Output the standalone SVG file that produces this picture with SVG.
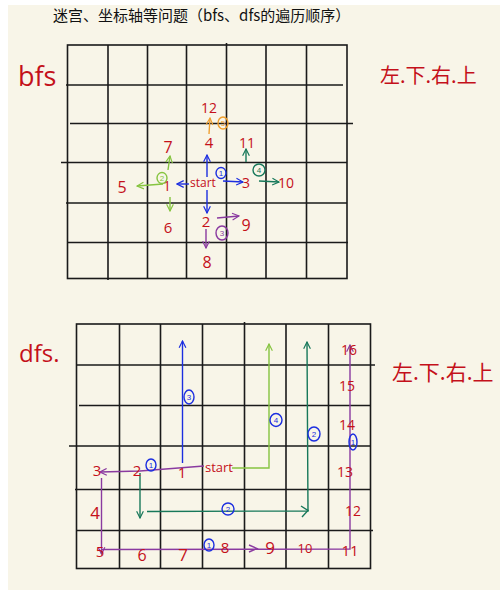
<svg xmlns="http://www.w3.org/2000/svg" width="500" height="590" viewBox="0 0 500 590">
<style>
.g{stroke:#1a1a1a;stroke-width:1.6;fill:none}
.r{fill:#c4101a;font-family:"Open Sans","Liberation Sans",sans-serif;text-anchor:middle}
.h{fill:#c4101a;font-family:"Open Sans","Liberation Sans",sans-serif}
.cj{fill:#c4101a;font-family:"Noto Sans CJK SC",sans-serif}
.b{stroke:#1c2ee0;stroke-width:1.4;fill:none}
.lg{stroke:#86c440;stroke-width:1.4;fill:none}
.dg{stroke:#17785a;stroke-width:1.4;fill:none}
.pu{stroke:#8a3aa0;stroke-width:1.4;fill:none}
.or{stroke:#f0a030;stroke-width:1.4;fill:none}
.cn{font-family:"Liberation Sans",sans-serif;font-size:8px;text-anchor:middle}
</style>
<defs>
<marker id="mb" viewBox="0 0 10 10" refX="9" refY="5" markerWidth="6" markerHeight="6" orient="auto"><path d="M1,1 L9,5 L1,9" fill="none" stroke="#1c2ee0" stroke-width="1.4"/></marker>
<marker id="mlg" viewBox="0 0 10 10" refX="9" refY="5" markerWidth="6" markerHeight="6" orient="auto"><path d="M1,1 L9,5 L1,9" fill="none" stroke="#86c440" stroke-width="1.4"/></marker>
<marker id="mdg" viewBox="0 0 10 10" refX="9" refY="5" markerWidth="6" markerHeight="6" orient="auto"><path d="M1,1 L9,5 L1,9" fill="none" stroke="#17785a" stroke-width="1.4"/></marker>
<marker id="mpu" viewBox="0 0 10 10" refX="9" refY="5" markerWidth="6" markerHeight="6" orient="auto"><path d="M1,1 L9,5 L1,9" fill="none" stroke="#8a3aa0" stroke-width="1.4"/></marker>
<marker id="mor" viewBox="0 0 10 10" refX="9" refY="5" markerWidth="6" markerHeight="6" orient="auto"><path d="M1,1 L9,5 L1,9" fill="none" stroke="#f0a030" stroke-width="1.4"/></marker>
</defs>
<rect x="0" y="0" width="500" height="590" fill="#ffffff"/>
<rect x="8" y="5" width="492" height="585" fill="#f8f5e8"/>
<text x="53" y="21" font-family="Noto Sans CJK SC,sans-serif" font-size="15" fill="#111">迷宫、坐标轴等问题（bfs、dfs的遍历顺序）</text>

<g id="bfs-grid" class="g">
<rect x="67.5" y="45" width="279.5" height="233.5"/>
<line x1="108" y1="45" x2="108" y2="280"/>
<line x1="147.5" y1="45" x2="147.5" y2="278.5"/>
<line x1="186.5" y1="45" x2="186.5" y2="278.5"/>
<line x1="226.5" y1="43" x2="226.5" y2="278.5"/>
<line x1="266" y1="45" x2="266" y2="278.5"/>
<line x1="306.5" y1="45" x2="306.5" y2="278.5"/>
<line x1="66" y1="85" x2="343" y2="85"/>
<line x1="70" y1="123.5" x2="353" y2="123.5"/>
<line x1="61" y1="162.5" x2="347" y2="162.5"/>
<line x1="66" y1="203" x2="347" y2="203"/>
<line x1="67" y1="242.5" x2="348" y2="242.5"/>
</g>
<g id="dfs-grid" class="g">
<rect x="76.5" y="324" width="294" height="244.5"/>
<line x1="119.5" y1="324" x2="119.5" y2="568.5"/>
<line x1="160.5" y1="324" x2="160.5" y2="568.5"/>
<line x1="202.5" y1="324" x2="202.5" y2="568.5"/>
<line x1="244.5" y1="322" x2="244.5" y2="568.5"/>
<line x1="286" y1="324" x2="286" y2="568.5"/>
<line x1="328.5" y1="324" x2="328.5" y2="568.5"/>
<line x1="76" y1="365" x2="375" y2="365"/>
<line x1="79" y1="405.5" x2="370.5" y2="405.5"/>
<line x1="69" y1="446" x2="370.5" y2="446"/>
<line x1="75" y1="489.5" x2="370.5" y2="489.5"/>
<line x1="76" y1="530.5" x2="373" y2="530.5"/>
</g>

<g id="labels">
<text class="h" x="18" y="86" font-size="27">bfs</text>
<text class="h" x="19" y="362" font-size="24">dfs.</text>
<text class="cj" x="380" y="83" font-size="20">左.下.右.上</text>
<text class="cj" x="392" y="380" font-size="21">左.下.右.上</text>
</g>

<g id="connectors">
<line class="b" x1="189" y1="184" x2="177" y2="184" marker-end="url(#mb)"/>
<line class="b" x1="207" y1="177" x2="207" y2="155" marker-end="url(#mb)"/>
<line class="b" x1="223" y1="181" x2="243" y2="182" marker-end="url(#mb)"/>
<line class="b" x1="207" y1="190" x2="207" y2="213" marker-end="url(#mb)"/>
<line class="or" x1="209" y1="134" x2="210" y2="118" marker-end="url(#mor)"/>
<line class="dg" x1="246" y1="162" x2="246" y2="149" marker-end="url(#mdg)"/>
<line class="dg" x1="259" y1="181" x2="279" y2="182" marker-end="url(#mdg)"/>
<line class="lg" x1="163" y1="184" x2="137" y2="186" marker-end="url(#mlg)"/>
<line class="lg" x1="168" y1="170" x2="170" y2="156" marker-end="url(#mlg)"/>
<line class="lg" x1="170" y1="197" x2="170" y2="211" marker-end="url(#mlg)"/>
<line class="pu" x1="217" y1="218" x2="239" y2="216" marker-end="url(#mpu)"/>
<line class="pu" x1="206" y1="229" x2="206" y2="248" marker-end="url(#mpu)"/>
<polyline class="pu" points="204,466 140,471 100,472" marker-end="url(#mpu)"/>
<line class="b" x1="182.5" y1="463" x2="182.5" y2="341" marker-end="url(#mb)"/>
<polyline class="lg" points="232,468 269,468 269,344" marker-end="url(#mlg)"/>
<line class="pu" x1="101.5" y1="478" x2="101.5" y2="554" marker-end="url(#mpu)"/>
<polyline class="pu" points="101.5,549.5 350,549 350,345" marker-end="url(#mpu)"/>
<path class="pu" d="M249,545 L257,548.5 L249,552"/>
<line class="dg" x1="140" y1="473" x2="140" y2="518" marker-end="url(#mdg)"/>
<polyline class="dg" points="147,511.5 308,511 307,342" marker-end="url(#mdg)"/>
<path class="dg" d="M301,506 L308,510.5 L302,517"/>
</g>

<g id="bfs-nodes">
<text class="h" x="190" y="187" font-size="12">start</text>
<text class="r" x="167" y="191" font-size="14">1</text>
<text class="r" x="209" y="148" font-size="15">4</text>
<text class="r" x="246" y="188" font-size="14">3</text>
<text class="r" x="206" y="227" font-size="15">2</text>
<text class="r" x="209" y="113" font-size="14">12</text>
<text class="r" x="247" y="148" font-size="14">11</text>
<text class="r" x="286" y="188" font-size="14">10</text>
<text class="r" x="122" y="193" font-size="16">5</text>
<text class="r" x="168" y="153" font-size="16">7</text>
<text class="r" x="168" y="233" font-size="15">6</text>
<text class="r" x="246" y="231" font-size="16">9</text>
<text class="r" x="207" y="268" font-size="16">8</text>
<g><ellipse cx="221" cy="173" rx="5" ry="5.5" class="b"/><text class="cn" x="221" y="176" fill="#1c2ee0">1</text></g>
<g><ellipse cx="162" cy="178" rx="5" ry="5.5" class="lg"/><text class="cn" x="162" y="181" fill="#86c440">2</text></g>
<g><ellipse cx="222" cy="233" rx="6" ry="7" class="pu"/><text class="cn" x="222" y="236" fill="#8a3aa0">3</text></g>
<g><ellipse cx="259" cy="170" rx="6" ry="6" class="dg"/><text class="cn" x="259" y="173" fill="#17785a">4</text></g>
<g><ellipse cx="223" cy="123" rx="5" ry="6" class="or"/><text class="cn" x="223" y="126" fill="#f0a030">5</text></g>
</g>

<g id="dfs-nodes">
<text class="h" x="205" y="472" font-size="13">start</text>
<text class="r" x="182" y="478" font-size="15">1</text>
<text class="r" x="137" y="476" font-size="15">2</text>
<text class="r" x="97" y="476" font-size="15">3</text>
<text class="r" x="95" y="519" font-size="17">4</text>
<text class="r" x="100" y="557" font-size="15">5</text>
<text class="r" x="142" y="561" font-size="16">6</text>
<text class="r" x="183" y="561" font-size="17">7</text>
<text class="r" x="225" y="553" font-size="15">8</text>
<text class="r" x="270" y="554" font-size="17">9</text>
<text class="r" x="305" y="553" font-size="13">10</text>
<text class="r" x="350" y="556" font-size="15">11</text>
<text class="r" x="353" y="516" font-size="14">12</text>
<text class="r" x="345" y="477" font-size="14">13</text>
<text class="r" x="347" y="430" font-size="14">14</text>
<text class="r" x="347" y="391" font-size="14">15</text>
<text class="r" x="349" y="355" font-size="14">16</text>
<g><ellipse cx="151" cy="465" rx="5" ry="6" class="b"/><text class="cn" x="151" y="468" fill="#1c2ee0">1</text></g>
<g><ellipse cx="209" cy="545" rx="5" ry="6" class="b"/><text class="cn" x="209" y="548" fill="#1c2ee0">1</text></g>
<g><ellipse cx="353" cy="442" rx="4" ry="8" class="b"/><text class="cn" x="353" y="445" fill="#1c2ee0">1</text></g>
<g><ellipse cx="228" cy="509" rx="6" ry="6" class="b"/><text class="cn" x="228" y="512" fill="#1c2ee0">2</text></g>
<g><ellipse cx="314" cy="434" rx="6" ry="7" class="b"/><text class="cn" x="314" y="437" fill="#1c2ee0">2</text></g>
<g><ellipse cx="189" cy="397" rx="5" ry="7" class="b"/><text class="cn" x="189" y="400" fill="#1c2ee0">3</text></g>
<g><ellipse cx="276" cy="420" rx="6" ry="6.5" class="b"/><text class="cn" x="276" y="423" fill="#1c2ee0">4</text></g>
</g>
</svg>
